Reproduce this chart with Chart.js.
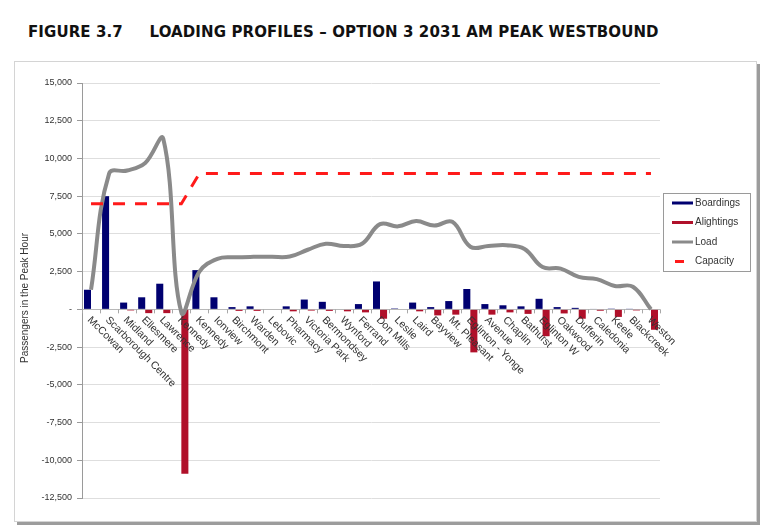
<!DOCTYPE html>
<html>
<head>
<meta charset="utf-8">
<script src="https://cdn.jsdelivr.net/npm/chart.js@4/dist/chart.umd.min.js"></script>
<style>
  body { margin: 0; background: #fff; }
  #wrap { position: relative; width: 771px; height: 531px; }
  #frame { position: absolute; left: 14px; top: 61px; width: 741px; height: 459px;
           border: 1px solid #d4d4d4; box-shadow: 3px 3px 0 #9c9c9c; }
  #title { position: absolute; left: 28px; top: 23px; font-family: "DejaVu Sans", sans-serif;
           font-weight: bold; font-size: 15px; letter-spacing: 0.1px; color: #111; white-space: pre; }
  canvas { position: absolute; left: 0; top: 0; }
</style>
</head>
<body>
<div id="wrap">
  <div id="frame"></div>
  <div id="title">FIGURE 3.7     LOADING PROFILES – OPTION 3 2031 AM PEAK WESTBOUND</div>
  <canvas id="chart" width="771" height="531"></canvas>
</div>
<script>
var stations = ['McCowan', 'Scarborough Centre', 'Midland', 'Ellesmere', 'Lawrence', 'Kennedy', 'Kennedy',
    'Ionview', 'Birchmont', 'Warden', 'Lebovic', 'Pharmacy', 'Victoria Park', 'Bermondsey', 'Wynford',
    'Ferrand', 'Don Mills', 'Leslie', 'Laird', 'Bayview', 'Mt. Pleasant', 'Eglinton - Yonge', 'Avenue',
    'Chaplin', 'Bathurst', 'Eglinton W', 'Oakwood', 'Dufferin', 'Caledonia', 'Keele', 'Blackcreek', 'Weston']
var boardings = [1300, 7500, 450, 800, 1700, 0, 2600, 800, 150, 200, 0, 200, 650, 500, 0, 350,
    1850, 60, 450, 150, 550, 1350, 350, 270, 200, 700, 150, 100, 30, 50, 20, 0]
var alightings = [0, 0, -70, -250, -250, -10900, 0, 0, -100, -100, 0, -130, -80, -100, -130, -200,
    -620, 0, -130, -400, -350, -2850, -350, -200, -300, -1780, -270, -620, -90, -500, -70, -1350]
var load = [1300, 9000, 9200, 9700, 11300, -200, 2500, 3350, 3450, 3480, 3480, 3500, 3950, 4350, 4200, 4350,
    5650, 5500, 5850, 5550, 5800, 4150, 4200, 4250, 4000, 2800, 2700, 2150, 2000, 1550, 1500, 0]
var capacity = [7000, 7000, 7000, 7000, 7000, 7000, 9000, 9000, 9000, 9000, 9000, 9000, 9000, 9000, 9000, 9000,
    9000, 9000, 9000, 9000, 9000, 9000, 9000, 9000, 9000, 9000, 9000, 9000, 9000, 9000, 9000, 9000]
var yTicks = [15000, 12500, 10000, 7500, 5000, 2500, 0, -2500, -5000, -7500, -10000, -12500]

var NAVY = '#000070'
var CRIMSON = '#b0102a'
var GREY = '#8a8a8a'
var RED = '#ff1a1a'
var TXT = '#333333'

// axis labels, y title, legend and category ticks
var extras = {
    id: 'extras',
    afterDraw(chart) {
        var ctx = chart.ctx
        var xs = chart.scales.x
        var ys = chart.scales.y
        var y0 = ys.getPixelForValue(0)
        var step = xs.getPixelForValue(1) - xs.getPixelForValue(0)
        ctx.save()
        // tick marks on the category axis
        ctx.strokeStyle = '#a8a8a8'
        ctx.lineWidth = 1
        for (var i = 0; i <= stations.length; i++) {
            var tx = Math.round(xs.getPixelForValue(i) - step / 2) + 0.5
            ctx.beginPath()
            ctx.moveTo(tx, y0)
            ctx.lineTo(tx, y0 + 4)
            ctx.stroke()
        }
        // category labels, rotated down to the right
        ctx.font = '10.5px "Liberation Sans", Arial, sans-serif'
        ctx.fillStyle = TXT
        ctx.textAlign = 'left'
        ctx.textBaseline = 'middle'
        stations.forEach((s, i) => {
            var x = xs.getPixelForValue(i)
            ctx.save()
            ctx.translate(x - 2, y0 + 9)
            ctx.rotate(Math.PI / 4)
            ctx.fillText(s, 0, 0)
            ctx.restore()
        })
        // y axis title
        ctx.save()
        ctx.translate(25, 298)
        ctx.rotate(-Math.PI / 2)
        ctx.textAlign = 'center'
        ctx.font = '10px "Liberation Sans", Arial, sans-serif'
        ctx.fillText('Passengers in the Peak Hour', 0, 0)
        ctx.restore()
        // legend
        ctx.fillStyle = '#fff'
        ctx.fillRect(663, 193, 87, 78)
        ctx.strokeStyle = '#9a9a9a'
        ctx.strokeRect(663.5, 193.5, 87, 78)
        var items = [
            { t: 'Boardings', c: NAVY, x1: 672, x2: 693 },
            { t: 'Alightings', c: CRIMSON, x1: 672, x2: 693 },
            { t: 'Load', c: GREY, x1: 672, x2: 693 },
            { t: 'Capacity', c: RED, x1: 675, x2: 684 }
        ]
        ctx.font = '10px "Liberation Sans", Arial, sans-serif'
        ctx.textBaseline = 'middle'
        items.forEach((it, k) => {
            var ly = 203 + k * 19.5
            ctx.strokeStyle = it.c
            ctx.lineWidth = 3
            ctx.beginPath()
            ctx.moveTo(it.x1, ly)
            ctx.lineTo(it.x2, ly)
            ctx.stroke()
            ctx.fillStyle = TXT
            ctx.fillText(it.t, 695, ly)
        })
        ctx.restore()
    }
}

var ctx = document.getElementById('chart').getContext('2d')
var myChart = new Chart(ctx, {
    type: 'bar',
    data: {
        labels: stations,
        datasets: [{
            type: 'line',
            label: 'Capacity',
            data: capacity,
            borderColor: RED,
            borderWidth: 3,
            borderDash: [12, 10],
            pointRadius: 0,
            tension: 0,
            fill: false
        }, {
            type: 'line',
            label: 'Load',
            data: load,
            borderColor: GREY,
            borderWidth: 4,
            pointRadius: 0,
            tension: 0.4,
            fill: false
        }, {
            label: 'Boardings',
            data: boardings,
            backgroundColor: NAVY,
            categoryPercentage: 0.78,
            barPercentage: 1.0
        }, {
            label: 'Alightings',
            data: alightings,
            backgroundColor: CRIMSON,
            categoryPercentage: 0.78,
            barPercentage: 1.0
        }]
    },
    options: {
        responsive: false,
        animation: false,
        layout: { padding: { left: 0, top: 83, right: 111, bottom: 33 } },
        plugins: {
            legend: { display: false },
            tooltip: { enabled: false }
        },
        scales: {
            x: {
                display: false,
                offset: true
            },
            y: {
                min: -12500,
                max: 15000,
                afterBuildTicks: scale => { scale.ticks = yTicks.map(v => ({ value: v })) },
                afterFit: scale => { scale.width = 82 },
                border: { color: '#9a9a9a' },
                grid: {
                    color: c => c.tick && c.tick.value === 0 ? '#b8b8b8' : '#dedede',
                    tickColor: '#9a9a9a',
                    tickLength: 5
                },
                ticks: {
                    padding: 5,
                    color: TXT,
                    font: { family: '"Liberation Sans", Arial, sans-serif', size: 9 },
                    callback: v => v === 0 ? '-' : v.toLocaleString('en-US')
                }
            }
        }
    },
    plugins: [extras]
})
</script>
</body>
</html>
